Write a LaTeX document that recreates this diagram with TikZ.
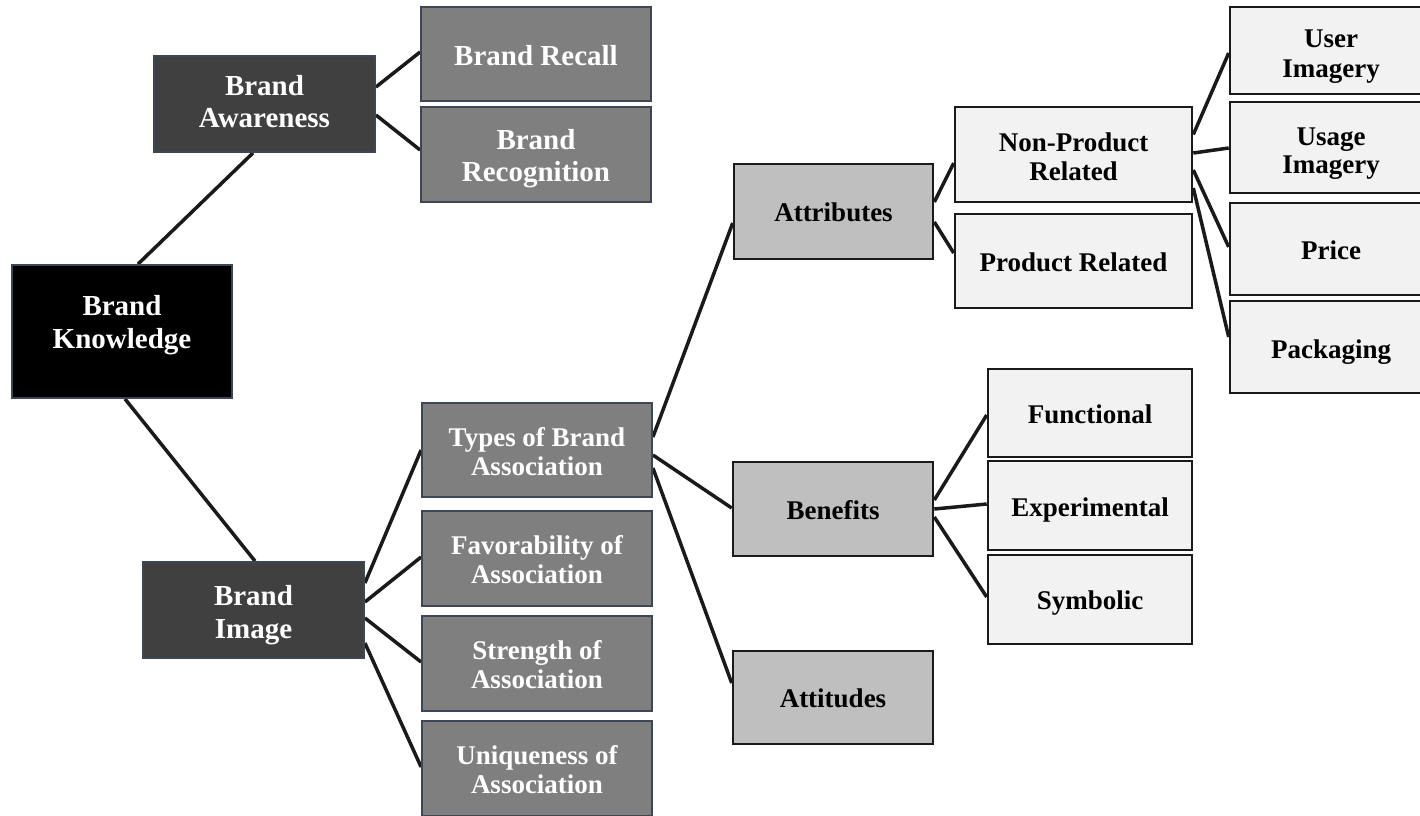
\documentclass[tikz,border=0pt]{standalone}
\usepackage{fontspec}
\setmainfont{Liberation Serif}
\usetikzlibrary{calc}
\pgfdeclarelayer{background}
\pgfsetlayers{background,main}

\definecolor{darkfill}{HTML}{404040}
\definecolor{midfill}{HTML}{7F7F7F}
\definecolor{lightfill}{HTML}{BFBFBF}
\definecolor{palefill}{HTML}{F2F2F2}
\definecolor{slateedge}{HTML}{3C4656}
\definecolor{inkedge}{HTML}{1A1A1A}

\tikzset{
  sz/.style 2 args={minimum width=#1, minimum height=#2},
  box/.style={rectangle, inner sep=0pt},
  slatebox/.style={box, draw=slateedge, line width=1.8pt},
  rootbox/.style={slatebox, fill=black},
  darkbox/.style={slatebox, fill=darkfill},
  midbox/.style={slatebox, fill=midfill},
  graybox/.style={box, draw=inkedge, line width=2.6pt, fill=lightfill},
  palebox/.style={box, draw=inkedge, line width=2.6pt, fill=palefill},
  % one line of box text, placed by its baseline
  txt/.style={anchor=base, inner sep=0pt, font=\bfseries\fontsize{27}{29}\selectfont},
  bigtxt/.style={txt, font=\bfseries\fontsize{29}{32.5}\selectfont},
  wtxt/.style={txt, text=white},
  wbigtxt/.style={bigtxt, text=white},
  ktxt/.style={txt, text=black},
  link/.style={line width=3.5pt, draw=inkedge}
}

\begin{document}
\begin{tikzpicture}[x=1pt, y=-1pt]
\useasboundingbox (0,0) rectangle (1420,815);
\clip (0,0) rectangle (1420,815);

% first level
\node[rootbox, sz={220}{133}] (bk) at (122,331.5) {};
\node[wbigtxt] (bk1) at ($(bk.center)+(0,-16.5)$) {Brand};
\node[wbigtxt] (bk2) at ($(bk.center)+(0,16.5)$) {Knowledge};

\node[darkbox, sz={221}{96}] (ba) at (264.5,104) {};
\node[wbigtxt] (ba1) at ($(ba.center)+(0,-8.5)$) {Brand};
\node[wbigtxt] (ba2) at ($(ba.center)+(0,23.5)$) {Awareness};

\node[darkbox, sz={221}{96}] (bi) at (253.5,610) {};
\node[wbigtxt] (bi1) at ($(bi.center)+(0,-4.5)$) {Brand};
\node[wbigtxt] (bi2) at ($(bi.center)+(0,28.5)$) {Image};

% awareness branch
\node[midbox, sz={230}{94}] (recall) at (536,54) {};
\node[wbigtxt] (recall1) at ($(recall.center)+(0,11)$) {Brand Recall};

\node[midbox, sz={230}{95}] (recog) at (536,154.5) {};
\node[wbigtxt] (recog1) at ($(recog.center)+(0,-5.5)$) {Brand};
\node[wbigtxt] (recog2) at ($(recog.center)+(0,27)$) {Recognition};

% image branch
\node[midbox, sz={230}{94}] (types) at (537,450) {};
\node[wtxt] (types1) at ($(types.center)+(0,-4)$) {Types of Brand};
\node[wtxt] (types2) at ($(types.center)+(0,25)$) {Association};

\node[midbox, sz={230}{95}] (favor) at (537,558.5) {};
\node[wtxt] (favor1) at ($(favor.center)+(0,-3.8)$) {Favorability of};
\node[wtxt] (favor2) at ($(favor.center)+(0,25.2)$) {Association};

\node[midbox, sz={230}{95}] (strength) at (537,663.5) {};
\node[wtxt] (strength1) at ($(strength.center)+(0,-4)$) {Strength of};
\node[wtxt] (strength2) at ($(strength.center)+(0,25)$) {Association};

\node[midbox, sz={230}{95}] (unique) at (537,768.5) {};
\node[wtxt] (unique1) at ($(unique.center)+(0,-4)$) {Uniqueness of};
\node[wtxt] (unique2) at ($(unique.center)+(0,25)$) {Association};

% types of association
\node[graybox, sz={199}{95}] (attr) at (833.5,211.5) {};
\node[ktxt] (attr1) at ($(attr.center)+(0,10)$) {Attributes};

\node[graybox, sz={200}{94}] (benef) at (833,509) {};
\node[ktxt] (benef1) at ($(benef.center)+(0,10.5)$) {Benefits};

\node[graybox, sz={200}{93}] (attit) at (833,697.5) {};
\node[ktxt] (attit1) at ($(attit.center)+(0,10)$) {Attitudes};

% attributes
\node[palebox, sz={237}{95}] (np) at (1073.5,154.5) {};
\node[ktxt] (np1) at ($(np.center)+(0,-3.5)$) {Non-Product};
\node[ktxt] (np2) at ($(np.center)+(0,25.5)$) {Related};

\node[palebox, sz={237}{94}] (pr) at (1073.5,261) {};
\node[ktxt] (pr1) at ($(pr.center)+(0,10.5)$) {Product Related};

% benefits
\node[palebox, sz={204}{88}] (func) at (1090,413) {};
\node[ktxt] (func1) at ($(func.center)+(0,10.2)$) {Functional};

\node[palebox, sz={204}{89}] (exper) at (1090,505.5) {};
\node[ktxt] (exper1) at ($(exper.center)+(0,11)$) {Experimental};

\node[palebox, sz={204}{89}] (symb) at (1090,599.5) {};
\node[ktxt] (symb1) at ($(symb.center)+(0,10)$) {Symbolic};

% non-product related
\node[palebox, sz={202}{87}] (user) at (1331,50.5) {};
\node[ktxt] (user1) at ($(user.center)+(0,-2.8)$) {User};
\node[ktxt] (user2) at ($(user.center)+(0,26.5)$) {Imagery};

\node[palebox, sz={202}{91}] (usage) at (1331,147.5) {};
\node[ktxt] (usage1) at ($(usage.center)+(0,-2.5)$) {Usage};
\node[ktxt] (usage2) at ($(usage.center)+(0,26)$) {Imagery};

\node[palebox, sz={202}{92}] (price) at (1331,249) {};
\node[ktxt] (price1) at ($(price.center)+(0,10.2)$) {Price};

\node[palebox, sz={202}{92}] (pack) at (1331,347) {};
\node[ktxt] (pack1) at ($(pack.center)+(0,11)$) {Packaging};

\begin{pgfonlayer}{background}
  \fill[white] (0,0) rectangle (1420,815);

  \draw[link] ($(bk.north)+(16,0)$) -- ($(ba.south)+(-11.5,0)$);
  \draw[link] ($(bk.south)+(3,0)$) -- ($(bi.north)+(1.5,0)$);

  \draw[link] ($(ba.east)+(0,-17)$) -- ($(recall.west)+(0,-2)$);
  \draw[link] ($(ba.east)+(0,11)$) -- ($(recog.west)+(0,-4.5)$);

  \draw[link] ($(bi.east)+(0,-27)$) -- ($(types.west)+(0,0)$);
  \draw[link] ($(bi.east)+(0,-8)$) -- ($(favor.west)+(0,-1.5)$);
  \draw[link] ($(bi.east)+(0,8)$) -- ($(strength.west)+(0,-1.5)$);
  \draw[link] ($(bi.east)+(0,33)$) -- ($(unique.west)+(0,-1.5)$);

  \draw[link] ($(types.east)+(0,-13)$) -- ($(attr.west)+(0,11.5)$);
  \draw[link] ($(types.east)+(0,5)$) -- ($(benef.west)+(0,-1)$);
  \draw[link] ($(types.east)+(0,18)$) -- ($(attit.west)+(0,-14.5)$);

  \draw[link] ($(attr.east)+(0,-9.5)$) -- ($(np.west)+(0,8.5)$);
  \draw[link] ($(attr.east)+(0,10.5)$) -- ($(pr.west)+(0,-8)$);

  \draw[link] ($(benef.east)+(0,-9)$) -- ($(func.west)+(0,2)$);
  \draw[link] ($(benef.east)+(0,0)$) -- ($(exper.west)+(0,-1.5)$);
  \draw[link] ($(benef.east)+(0,8)$) -- ($(symb.west)+(0,-2.5)$);

  \draw[link] ($(np.east)+(0,-20)$) -- ($(user.west)+(0,2.5)$);
  \draw[link] ($(np.east)+(0,-1.5)$) -- ($(usage.west)+(0,0.5)$);
  \draw[link] ($(np.east)+(0,15.5)$) -- ($(price.west)+(0,-2)$);
  \draw[link] ($(np.east)+(0,33.5)$) -- ($(pack.west)+(0,-10)$);
\end{pgfonlayer}
\end{tikzpicture}
\end{document}
